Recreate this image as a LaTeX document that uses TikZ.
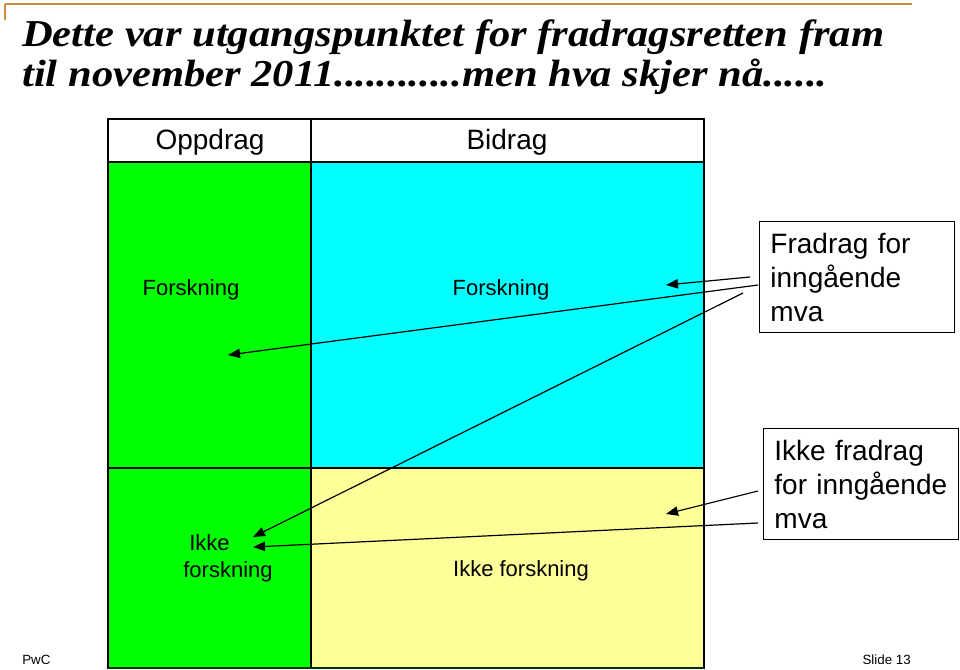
\documentclass[tikz,border=0pt]{standalone}
\usepackage{fontspec}
\setmainfont{Liberation Sans}
\newfontfamily\titlefont[FakeStretch=1.12]{Liberation Serif}
\usetikzlibrary{arrows.meta}
\definecolor{cgreen}{RGB}{0,255,0}
\definecolor{ccyan}{RGB}{0,255,255}
\definecolor{cyell}{RGB}{255,255,153}
\definecolor{corange}{RGB}{200,142,60}
\begin{document}
\begin{tikzpicture}[x=0.75pt,y=-0.75pt,
  gridline/.style={draw=black, line width=0.9pt},
  hdr/.style={font=\fontsize{21}{25}\selectfont, inner sep=0pt},
  lbl/.style={font=\fontsize{16.5}{20.5}\selectfont, align=center, inner sep=0pt},
  note/.style={draw=black, line width=0.9pt, fill=white, align=left,
    font=\fontsize{21}{25.5}\selectfont, anchor=north west,
    minimum width=146.25pt, minimum height=83.25pt, text width=130pt, inner xsep=8pt, inner ysep=0pt},
  arr/.style={-{Triangle[length=9pt,width=7pt]}, line width=0.9pt},
  ttl/.style={anchor=base west, inner sep=0pt, font=\titlefont\bfseries\itshape\fontsize{28.5}{34}\selectfont},
  foot/.style={font=\fontsize{10}{12}\selectfont, inner sep=0pt}]
\useasboundingbox (0,0) rectangle (960,670);
\fill[white] (0,0) rectangle (960,670);
% top rule
\draw[corange, line width=1.2pt] (5,4) -- (912,4);
\draw[corange, line width=1.2pt] (5,4) -- (5,20);
% title
\node[ttl] (title1) at (22,47) {Dette var utgangspunktet for fradragsretten fram};
\node[ttl] (title2) at (22,87) {til november 2011............men hva skjer nå......};
% table cells
\fill[white] (108,119) rectangle (704,162);
\fill[cgreen] (108,162) rectangle (311,668);
\fill[ccyan] (311,162) rectangle (704,468);
\fill[cyell] (311,468) rectangle (704,668);
\draw[gridline] (108,119) rectangle (704,668);
\draw[gridline] (108,162) -- (704,162);
\draw[gridline] (311,119) -- (311,668);
\draw[gridline] (108,468) -- (704,468);
\draw[black!80!green, line width=1.8pt] (108,668) -- (704,668);
% headers
\node[hdr] (h1) at (210,142) {Oppdrag};
\node[hdr] (h2) at (507,142) {Bidrag};
% labels
\node[lbl] (f1) at (191,290) {Forskning};
\node[lbl] (f2) at (501,290) {Forskning};
\node[lbl, align=left] (ik1) at (228,558) {\hspace*{4.5pt}Ikke\\forskning};
\node[lbl] (ik2) at (521,571) {Ikke forskning};
% notes
\node[note] (n1) at (759,221) {Fradrag for inngående mva};
\node[note] (n2) at (763,428) {Ikke fradrag for inngående mva};
% arrow ends
\coordinate (s1) at (750,277);
\coordinate (s2) at (758,285);
\coordinate (s3) at (743,293);
\coordinate (s4) at (758,491);
\coordinate (s5) at (758,523);
\coordinate (t1) at (666,285);
\coordinate (t2) at (228,355);
\coordinate (t3) at (253,537);
\coordinate (t4) at (666,514);
\coordinate (t5) at (253,547);
\draw[arr] (s1) -- (t1);
\draw[arr] (s2) -- (t2);
\draw[arr] (s3) -- (t3);
\draw[arr] (s4) -- (t4);
\draw[arr] (s5) -- (t5);
% footer
\node[foot, anchor=base west] (pwc) at (22,664) {PwC};
\node[foot, anchor=base east] (slide) at (911,664) {Slide 13};
\end{tikzpicture}
\end{document}
